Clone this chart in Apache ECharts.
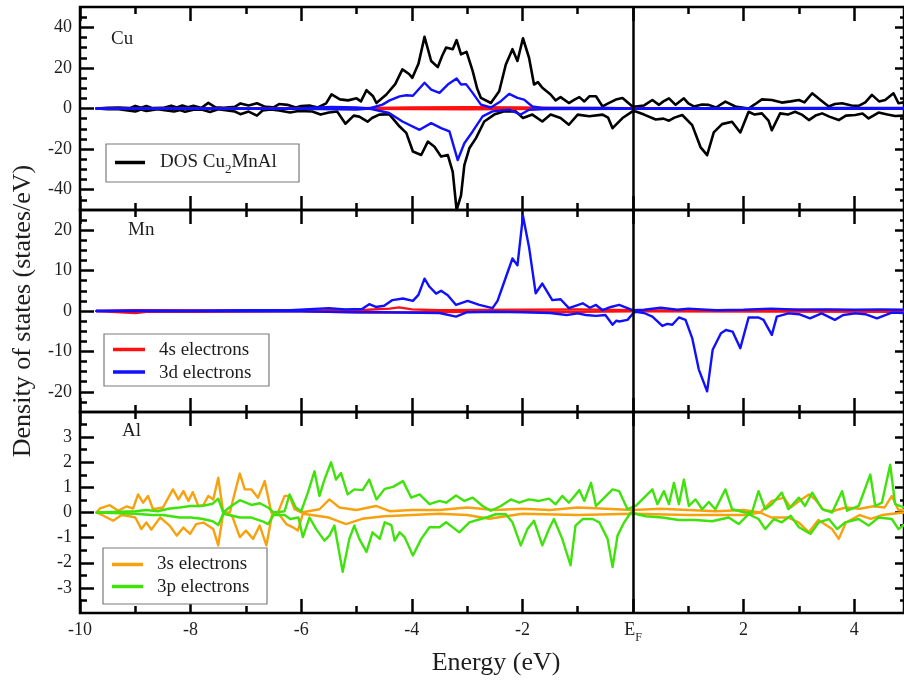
<!DOCTYPE html>
<html><head><meta charset="utf-8">
<script src="https://cdn.jsdelivr.net/npm/echarts@6/dist/echarts.min.js"></script>
<style>html,body{margin:0;padding:0;background:#fff}#c{width:904px;height:680px}</style>
</head><body><div id="c"></div>
<script>
// ---- tick values ----
const xMajor = [-10, -8, -6, -4, -2, 0, 2, 4];
const xMinor = [-9, -7, -5, -3, -1, 1, 3];
const cuYMajor = [-40, -20, 0, 20, 40];
const cuYMinor = [-45, -35, -30, -25, -15, -10, -5, 5, 10, 15, 25, 30, 35, 45];
const mnYMajor = [-20, -10, 0, 10, 20];
const mnYMinor = [-22.5, -17.5, -15, -12.5, -7.5, -5, -2.5, 2.5, 5, 7.5, 12.5, 15, 17.5, 22.5];
const alYMajor = [-3, -2, -1, 0, 1, 2, 3];
const alYMinor = [-3.5, -2.5, -1.5, -0.5, 0.5, 1.5, 2.5, 3.5];
const panelNames = ['Cu', 'Mn', 'Al'];

// ---- Cu panel: total DOS (black), 3d (blue), 4s (red); [energy, DOS] ----
const cuTotUp = [[-9.7,0],[-9.5,0.3],[-9.3,0.5],[-9.1,0.2],[-9.0,1.3],[-8.9,0.4],[-8.8,1.2],[-8.7,0.2],[-8.5,0.3],[-8.35,1.4],[-8.25,0.5],[-8.15,1.5],[-8.05,0.6],[-7.95,1.3],[-7.8,0.3],[-7.68,2.8],[-7.55,0.6],[-7.4,0.4],[-7.2,0.8],[-7.1,2.5],[-6.95,1.5],[-6.8,2.6],[-6.65,0.8],[-6.5,0.6],[-6.4,2.2],[-6.25,1.8],[-6.1,0.5],[-6.0,1.2],[-5.85,1.5],[-5.7,0.5],[-5.55,2.5],[-5.45,7],[-5.3,4.5],[-5.15,4],[-5.0,5],[-4.92,3.5],[-4.82,9],[-4.7,6],[-4.64,2.7],[-4.46,6.9],[-4.3,12],[-4.17,19.3],[-4.05,17],[-3.99,15.1],[-3.88,22],[-3.77,35.3],[-3.65,23.4],[-3.53,20.4],[-3.45,26],[-3.38,30],[-3.26,29.2],[-3.19,33.7],[-3.11,26.7],[-3.01,27.9],[-2.90,18.5],[-2.82,10],[-2.75,5.2],[-2.57,2.7],[-2.42,8.5],[-2.30,21.7],[-2.18,29.2],[-2.09,23.4],[-1.99,34.6],[-1.88,25],[-1.79,11.8],[-1.72,13],[-1.64,10.2],[-1.49,6.9],[-1.40,4],[-1.31,5.6],[-1.16,2.7],[-1.05,4.5],[-0.97,5.6],[-0.88,3.5],[-0.79,6],[-0.67,6],[-0.55,1],[-0.45,2.5],[-0.31,4.4],[-0.19,5.2],[-0.01,1],[0.05,1],[0.2,1.5],[0.35,4.2],[0.47,1.8],[0.55,3.5],[0.65,5],[0.77,1.8],[0.92,5],[1.0,2.5],[1.10,1],[1.25,2],[1.37,1.8],[1.5,0.5],[1.67,3.4],[1.85,1],[2.09,0],[2.2,2],[2.33,4.5],[2.51,4.2],[2.69,2.9],[2.85,3.5],[3.0,4.2],[3.1,3],[3.24,7.5],[3.39,4.2],[3.54,1],[3.65,2.2],[3.78,2.6],[3.95,1.5],[4.08,1.3],[4.2,3],[4.32,6.7],[4.45,3.5],[4.56,4.2],[4.71,7.5],[4.8,2.6],[4.9,3]];
const cuTotDn = [[-9.7,0],[-9.5,-0.3],[-9.3,-0.4],[-9.0,-1.5],[-8.9,-0.5],[-8.8,-1.2],[-8.6,-0.3],[-8.3,-1.5],[-8.2,-0.8],[-8.1,-1.6],[-7.95,-0.6],[-7.8,-0.5],[-7.65,-1.7],[-7.5,-0.4],[-7.2,-1.5],[-7.1,-2.8],[-6.95,-1.5],[-6.8,-3.5],[-6.7,-1.0],[-6.55,-0.5],[-6.4,-1.0],[-6.2,-2],[-6.05,-1.2],[-5.8,-1.5],[-5.65,-3],[-5.5,-2],[-5.35,-1.5],[-5.2,-7.5],[-5.05,-3.5],[-4.95,-4],[-4.8,-6.5],[-4.72,-4.7],[-4.59,-3],[-4.41,-2.8],[-4.22,-8.9],[-4.1,-12],[-3.98,-21.2],[-3.83,-22.9],[-3.71,-16.3],[-3.59,-18.8],[-3.47,-23.7],[-3.35,-22.9],[-3.26,-31.2],[-3.19,-50],[-3.11,-42.8],[-3.05,-27.9],[-2.96,-19.6],[-2.84,-14.6],[-2.69,-6.4],[-2.51,-3],[-2.33,-1.4],[-2.12,-1.4],[-1.99,-4.7],[-1.82,-3],[-1.64,-6.4],[-1.49,-3],[-1.31,-4.7],[-1.16,-8],[-1.0,-3],[-0.79,-3.8],[-0.55,-3],[-0.45,-4.5],[-0.37,-9.7],[-0.19,-4.7],[-0.01,-1.4],[0.05,-1.5],[0.2,-3],[0.41,-5.4],[0.55,-5],[0.65,-6],[0.75,-4.5],[0.89,-3.2],[1.07,-8.2],[1.22,-19],[1.34,-23],[1.46,-11.8],[1.61,-7.7],[1.79,-6.5],[1.94,-11.8],[2.09,-1.6],[2.2,-3],[2.33,-2.4],[2.45,-6],[2.51,-10.7],[2.66,-2.4],[2.8,-3],[2.93,-1.6],[3.05,-3],[3.18,-5.7],[3.3,-3.5],[3.42,-2.4],[3.55,-4],[3.72,-5.7],[3.85,-3.5],[4.02,-3.2],[4.15,-2.5],[4.26,-4.9],[4.44,-2],[4.6,-3],[4.74,-3.7],[4.9,-3.5]];
const cuDUp = [[-9.7,0],[-8,0],[-6,0.2],[-5.45,0.8],[-5,0.5],[-4.77,0],[-4.53,1.9],[-4.4,4],[-4.22,6],[-4.1,6.5],[-3.98,6.3],[-3.77,12.7],[-3.65,9.3],[-3.50,7.7],[-3.35,11.8],[-3.19,14.8],[-3.11,11.8],[-3.02,12],[-2.90,7.7],[-2.75,1.9],[-2.57,0.5],[-2.39,3.6],[-2.24,7.2],[-2.09,5.2],[-1.97,4.4],[-1.82,1],[-1.64,0.3],[-1.2,0.3],[-0.5,0.3],[0,0],[1,0.2],[2,0.2],[3,0.3],[4,0.3],[4.9,0.3]];
const cuDDn = [[-9.7,0],[-6,-0.2],[-5,-0.5],[-4.77,0],[-4.41,-2.2],[-4.17,-6.4],[-3.86,-10.5],[-3.65,-7.2],[-3.47,-9.7],[-3.32,-11.3],[-3.17,-25.4],[-3.05,-17.1],[-2.90,-11.3],[-2.72,-3.9],[-2.54,-1.4],[-2.24,-0.6],[-2.03,-3],[-1.88,-0.6],[-1.6,-0.3],[0,-0.2],[4.9,-0.2]];
const cuSUp = [[-9.7,0],[-5,0.2],[-4,0.5],[-3,0.6],[-2,0.5],[-1.5,0.3],[0,0.1],[4.9,0.2]];
const cuSDn = [[-9.7,0],[-5,-0.2],[-3,-0.4],[-1.5,-0.2],[0,-0.1],[4.9,-0.1]];

// ---- Mn panel: 4s (red), 3d (blue) ----
const mnSUp = [[-9.7,0],[-9,0.2],[-6,0.1],[-4.8,0.3],[-4.4,0.6],[-4.23,0.9],[-4.0,0.4],[-3.5,0.2],[-2,0.3],[-1,0.4],[0,0.2],[1,0.1],[2,0.2],[3,0.3],[4,0.2],[4.9,0.2]];
const mnSDn = [[-9.7,0],[-9.0,-0.5],[-8.8,-0.2],[-8.0,-0.2],[-6,-0.1],[-5,-0.3],[-4.5,-0.4],[-3,-0.2],[-1,-0.2],[0,-0.1],[4.9,-0.2]];
const mnDUp = [[-9.7,0],[-9,0.1],[-8,0.1],[-7,0.2],[-6.2,0.2],[-5.5,0.7],[-5.2,0.4],[-4.9,0.5],[-4.77,1.7],[-4.65,1.0],[-4.5,1.3],[-4.35,2.7],[-4.16,3.1],[-3.98,2.5],[-3.88,4],[-3.77,8],[-3.68,6],[-3.56,4.3],[-3.47,5],[-3.35,3.9],[-3.2,1.5],[-2.99,2.5],[-2.78,1.5],[-2.54,0.7],[-2.45,2.5],[-2.36,6],[-2.18,13],[-2.09,11.3],[-1.99,23.5],[-1.88,15.8],[-1.76,4.4],[-1.64,6.8],[-1.46,2.7],[-1.31,2.9],[-1.16,0.7],[-0.91,1.9],[-0.78,0.8],[-0.67,1.5],[-0.55,0.2],[-0.4,1.0],[-0.25,1.5],[-0.01,0.2],[0.2,0.3],[0.5,0.8],[0.8,0.3],[1.0,0.6],[1.5,0.2],[2.0,0.3],[2.5,0.6],[3,0.3],[3.5,0.4],[4,0.3],[4.5,0.4],[4.9,0.3]];
const mnDDn = [[-9.7,0],[-6,-0.1],[-5,-0.3],[-4.5,-0.3],[-3.5,-0.5],[-3.2,-1.4],[-3.0,-0.3],[-2.5,-0.2],[-2.0,-0.3],[-1.5,-0.5],[-1.2,-1.0],[-1.0,-0.6],[-0.85,-1],[-0.67,-1.2],[-0.5,-1.0],[-0.37,-3.4],[-0.3,-2.4],[-0.25,-2.6],[-0.1,-2.2],[0,-0.6],[0.05,-0.2],[0.2,-0.5],[0.35,-1.4],[0.53,-3.7],[0.62,-3.2],[0.71,-3.4],[0.83,-1.6],[0.95,-2.2],[1.07,-6.7],[1.19,-14.5],[1.34,-19.9],[1.44,-9.6],[1.59,-5.5],[1.68,-4.7],[1.80,-5.1],[1.94,-9.2],[2.09,-1.6],[2.27,-1.6],[2.36,-2.2],[2.51,-5.9],[2.60,-1.4],[2.81,-0.6],[3.0,-0.8],[3.20,-1.8],[3.41,-0.6],[3.65,-2.2],[3.8,-1.0],[4.02,-0.6],[4.2,-0.8],[4.41,-1.8],[4.68,-0.4],[4.9,-0.5]];

// ---- Al panel: 3s (orange), 3p (green) ----
const alSUp = [[-9.7,0],[-9.64,0.16],[-9.46,0.29],[-9.31,0.07],[-9.16,0.24],[-9.04,0.16],[-8.95,0.72],[-8.86,0.39],[-8.77,0.66],[-8.68,0.13],[-8.50,0.2],[-8.32,0.92],[-8.22,0.52],[-8.13,0.85],[-8.04,0.46],[-7.96,0.81],[-7.86,0.26],[-7.77,0.29],[-7.68,0.66],[-7.59,0.52],[-7.50,1.38],[-7.41,0],[-7.29,0],[-7.2,0.79],[-7.11,1.55],[-7.02,0.92],[-6.90,0.92],[-6.78,0.59],[-6.66,1.25],[-6.54,0],[-6.42,0],[-6.30,0.66],[-6.21,0.66],[-6.12,0.13],[-6.0,0],[-5.67,0.13],[-5.49,0.52],[-5.31,0.2],[-5.0,0.1],[-4.65,0.26],[-4.4,0.05],[-4.0,0.1],[-3.5,0.1],[-3.0,0.2],[-2.5,0.1],[-2.0,0.15],[-1.5,0.1],[-1.0,0.2],[-0.5,0.15],[0,0.1],[0.5,0.15],[1,0.1],[1.5,0.05],[2.0,0.1],[2.3,0.0],[2.51,0.46],[2.73,0.59],[2.85,0.2],[3.0,0.45],[3.18,0.72],[3.3,0.5],[3.45,0.1],[3.6,0.05],[3.85,0.2],[4.1,0.15],[4.35,0.25],[4.55,0.2],[4.68,0.66],[4.8,0.1],[4.9,0.1]];
const alSDn = [[-9.7,0],[-9.6,-0.1],[-9.40,-0.33],[-9.25,-0.1],[-9.1,-0.15],[-9.0,-0.2],[-8.89,-0.66],[-8.8,-0.4],[-8.71,-0.68],[-8.55,-0.2],[-8.38,-0.52],[-8.25,-0.92],[-8.13,-0.6],[-8.01,-0.85],[-7.9,-0.46],[-7.77,-0.4],[-7.59,-0.66],[-7.50,-1.31],[-7.41,0],[-7.25,-0.13],[-7.11,-0.98],[-7.0,-0.72],[-6.87,-1.05],[-6.75,-0.52],[-6.63,-1.31],[-6.52,0],[-6.4,-0.07],[-6.27,-0.46],[-6.15,-0.59],[-6.06,-0.72],[-5.97,-0.05],[-5.5,-0.2],[-5.19,-0.46],[-4.9,-0.25],[-4.5,-0.15],[-4.0,-0.1],[-3.5,-0.05],[-3.0,-0.1],[-2.6,-0.25],[-2.0,-0.05],[-1.0,-0.1],[0,-0.05],[1,-0.1],[2,-0.1],[2.3,0],[2.5,-0.2],[2.8,-0.2],[3.0,-0.4],[3.18,-0.79],[3.35,-0.3],[3.60,-0.66],[3.72,-1.05],[3.85,-0.4],[4.1,-0.1],[4.3,-0.25],[4.5,-0.1],[4.7,-0.05],[4.9,0]];
const alPUp = [[-9.7,0],[-9.0,0.05],[-8.8,0.1],[-8.6,0.05],[-8.4,0.15],[-8.2,0.2],[-8.0,0.26],[-7.8,0.26],[-7.6,0.35],[-7.5,0.55],[-7.41,0.0],[-7.3,0.2],[-7.11,0.49],[-6.9,0.3],[-6.75,0.37],[-6.6,0.2],[-6.5,0.0],[-6.3,0.05],[-6.21,0.72],[-6.1,0.2],[-6.0,0.05],[-5.88,0.79],[-5.76,1.64],[-5.67,0.66],[-5.58,1.31],[-5.46,2.0],[-5.37,1.31],[-5.28,1.57],[-5.16,0.72],[-5.04,0.92],[-4.89,0.89],[-4.77,1.31],[-4.64,0.52],[-4.49,0.94],[-4.34,1.02],[-4.16,1.25],[-4.01,0.59],[-3.86,0.72],[-3.68,0.33],[-3.50,0.46],[-3.38,0.39],[-3.2,0.68],[-3.05,0.46],[-2.90,0.59],[-2.72,0.26],[-2.57,0.07],[-2.39,0.26],[-2.21,0.52],[-2.06,0.39],[-1.88,0.52],[-1.70,0.46],[-1.52,0.55],[-1.40,0.33],[-1.28,0.66],[-1.16,0.39],[-0.97,0.89],[-0.88,0.46],[-0.76,1.18],[-0.67,0.26],[-0.55,0.52],[-0.37,0.92],[-0.25,0.85],[-0.10,0.13],[0.05,0.26],[0.35,0.92],[0.44,0.33],[0.56,0.85],[0.65,0.33],[0.74,1.18],[0.83,0.33],[0.92,1.31],[1.01,0.26],[1.13,0.52],[1.25,0.13],[1.37,0.42],[1.49,0.13],[1.67,0.92],[1.79,0.13],[2.03,0],[2.15,0],[2.27,0.85],[2.39,0.13],[2.51,0.33],[2.69,0.79],[2.81,0.13],[3.0,0.59],[3.11,0.26],[3.24,0.79],[3.42,0.13],[3.60,0],[3.78,0.85],[3.87,0.07],[4.08,0.26],[4.29,1.51],[4.38,0.26],[4.50,0.39],[4.65,1.9],[4.74,0.33],[4.9,0.2]];
const alPDn = [[-9.7,0],[-9.0,-0.05],[-8.7,-0.1],[-8.5,-0.1],[-8.2,-0.2],[-8.0,-0.2],[-7.8,-0.25],[-7.6,-0.35],[-7.5,-0.5],[-7.41,-0.05],[-7.3,-0.1],[-7.11,-0.2],[-6.9,-0.2],[-6.7,-0.35],[-6.6,-0.46],[-6.5,-0.1],[-6.3,-0.1],[-6.2,-0.26],[-6.05,-0.2],[-5.97,-0.98],[-5.85,-0.2],[-5.73,-0.66],[-5.58,-1.12],[-5.49,-0.92],[-5.40,-0.52],[-5.25,-2.36],[-5.13,-1.05],[-5.04,-0.52],[-4.95,-1.05],[-4.82,-1.57],[-4.71,-0.79],[-4.58,-1.05],[-4.49,-0.39],[-4.37,-0.5],[-4.31,-1.12],[-4.22,-0.79],[-4.13,-0.98],[-3.98,-1.71],[-3.83,-1.05],[-3.68,-0.59],[-3.50,-0.59],[-3.38,-0.39],[-3.14,-0.79],[-2.96,-0.39],[-2.66,-0.2],[-2.48,-0.07],[-2.30,-0.07],[-2.18,-0.39],[-2.03,-1.31],[-1.91,-0.66],[-1.79,-0.33],[-1.64,-1.31],[-1.52,-0.66],[-1.43,-0.26],[-1.28,-1.05],[-1.13,-2.1],[-1.04,-0.52],[-0.91,-0.26],[-0.73,-0.26],[-0.61,-0.39],[-0.46,-1.05],[-0.37,-2.17],[-0.28,-0.92],[-0.16,-0.39],[-0.04,0],[0.23,-0.15],[0.53,-0.2],[0.83,-0.3],[1.13,-0.3],[1.43,-0.35],[1.73,-0.2],[1.91,-0.46],[2.09,-0.07],[2.27,-0.26],[2.39,-0.66],[2.55,-0.26],[2.69,-0.39],[2.85,-0.13],[3.0,-0.59],[3.21,-0.85],[3.36,-0.39],[3.54,-0.26],[3.69,-0.66],[3.84,-0.39],[4.08,-0.26],[4.26,-0.52],[4.44,-0.2],[4.68,-0.26],[4.8,-0.66],[4.9,-0.5]];

// ---- build chart ----
const SERIF = '"Liberation Serif","DejaVu Serif",serif';
const TXT = '#1e1e1e';
const C = {black:'#000000', blue:'#1010ff', red:'#ff1010', orange:'#f7a10f', green:'#3fe20a'};

const grids = [
  {left:80, top:7, width:826, height:203},
  {left:80, top:210, width:826, height:202},
  {left:80, top:412, width:826, height:201}
].map(g => Object.assign(g, {show:true, borderColor:'#000', borderWidth:2.5, backgroundColor:'transparent'}));

const yCfg = [
  {min:-50, max:50, major:cuYMajor, minor:cuYMinor},
  {min:-25, max:25, major:mnYMajor, minor:mnYMinor},
  {min:-4, max:4, major:alYMajor, minor:alYMinor}
];

const xAxes = [], yAxes = [];
for (let g = 0; g < 3; g++) {
  ['bottom','top'].forEach(pos => {
    [[xMajor, 14], [xMinor, 7]].forEach(([vals, len], k) => {
      const showLab = (g === 2 && pos === 'bottom' && k === 0);
      xAxes.push({
        gridIndex:g, type:'value', min:-10, max:4.9, position:pos,
        axisLine:{show:false, onZero:false},
        splitLine:{show:false},
        axisTick:{show:true, inside:true, length:len, customValues:vals, lineStyle:{color:'#000', width:2.5}},
        axisLabel: showLab ? {
          show:true, customValues:xMajor, margin:8, color:TXT, fontFamily:SERIF, fontSize:18,
          formatter: v => v === 0 ? '{e|E}{f|F}' : String(v),
          rich:{e:{fontFamily:SERIF, fontSize:18, color:TXT, lineHeight:18, verticalAlign:'top'},
                f:{fontFamily:SERIF, fontSize:12, color:TXT, lineHeight:12, padding:[11,0,0,0], verticalAlign:'top'}}
        } : {show:false}
      });
    });
  });
  const yc = yCfg[g];
  [['left',14,7],['right',9,4]].forEach(([pos, lmaj, lmin]) => {
    [[yc.major, lmaj], [yc.minor, lmin]].forEach(([vals, len], k) => {
      const showLab = (pos === 'left' && k === 0);
      yAxes.push({
        gridIndex:g, type:'value', min:yc.min, max:yc.max, position:pos,
        axisLine:{show:false, onZero:false},
        splitLine:{show:false},
        axisTick:{show:true, inside:true, length:len, customValues:vals, lineStyle:{color:'#000', width:2.5}},
        axisLabel: showLab ? {show:true, customValues:yc.major, margin:8, color:TXT, fontFamily:SERIF, fontSize:18} : {show:false}
      });
    });
  });
}

function line(g, data, color, width, z) {
  return {type:'line', xAxisIndex:g*4, yAxisIndex:g*4, data:data, symbol:'none', showSymbol:false,
          lineStyle:{color:color, width:width, join:'round', cap:'round'}, itemStyle:{color:color}, z:z, silent:true, animation:false, clip:true};
}
const efLine = {silent:true, symbol:['none','none'], label:{show:false}, animation:false,
                lineStyle:{color:'#000', width:2.5, type:'solid'}, data:[{xAxis:0}]};

const series = [
  line(0, cuTotUp, C.black, 2.6, 2), line(0, cuTotDn, C.black, 2.6, 2),
  line(0, cuSUp, C.red, 2.4, 3), line(0, cuSDn, C.red, 2.4, 3),
  line(0, cuDUp, C.blue, 2.4, 4), line(0, cuDDn, C.blue, 2.4, 4),
  line(1, mnSUp, C.red, 2.4, 3), line(1, mnSDn, C.red, 2.4, 3),
  line(1, mnDUp, C.blue, 2.4, 4), line(1, mnDDn, C.blue, 2.4, 4),
  line(2, alSUp, C.orange, 2.4, 3), line(2, alSDn, C.orange, 2.4, 3),
  line(2, alPUp, C.green, 2.4, 4), line(2, alPDn, C.green, 2.4, 4)
];
series[5].markLine = efLine; series[9].markLine = efLine; series[13].markLine = efLine;

function txt(x, y, text, size, extra) {
  return Object.assign({type:'text', x:x, y:y, z:50,
    style:{text:text, fontFamily:SERIF, fontSize:size, fill:TXT, textAlign:'left', textVerticalAlign:'middle'}}, extra || {});
}
function legendBox(x, y, w, h) {
  return {type:'rect', z:40, shape:{x:x, y:y, width:w, height:h}, style:{fill:'#fff', stroke:'#7a7a7a', lineWidth:1.2}};
}
function legendLine(x1, x2, y, color) {
  return {type:'line', z:45, shape:{x1:x1, y1:y, x2:x2, y2:y}, style:{stroke:color, lineWidth:3.5}};
}

const graphic = [
  txt(111, 39, panelNames[0], 19), txt(128, 230, panelNames[1], 19), txt(122, 431, panelNames[2], 19),
  legendBox(106, 144, 193, 38), legendLine(115, 145, 162.5, C.black),
  {type:'text', z:50, x:160, y:153, style:{text:'{a|DOS Cu}{s|2}{a|MnAl}', textAlign:'left', textVerticalAlign:'top',
    rich:{a:{fontFamily:SERIF, fontSize:19, fill:TXT, lineHeight:19, verticalAlign:'top'},
          s:{fontFamily:SERIF, fontSize:13, fill:TXT, lineHeight:13, padding:[10,0,0,0], verticalAlign:'top'}}}},
  legendBox(104, 334, 165, 52), legendLine(113, 145, 349.5, C.red), legendLine(113, 145, 372, C.blue),
  txt(159, 350, '4s electrons', 19), txt(159, 373, '3d electrons', 19),
  legendBox(103, 548, 164, 56), legendLine(112, 143, 564.5, C.orange), legendLine(112, 143, 586.5, C.green),
  txt(157, 564, '3s electrons', 19), txt(157, 587, '3p electrons', 19),
  {type:'text', z:50, x:23, y:311, rotation:Math.PI/2,
   style:{text:'Density of states (states/eV)', fontFamily:SERIF, fontSize:26, fill:TXT, textAlign:'center', textVerticalAlign:'middle'}},
  {type:'text', z:50, x:496, y:663,
   style:{text:'Energy (eV)', fontFamily:SERIF, fontSize:26, fill:TXT, textAlign:'center', textVerticalAlign:'middle'}}
];

const chart = echarts.init(document.getElementById('c'), null, {renderer:'canvas'});
chart.setOption({
  animation:false,
  backgroundColor:'#ffffff',
  grid:grids, xAxis:xAxes, yAxis:yAxes, series:series, graphic:graphic
});
</script></body></html>
